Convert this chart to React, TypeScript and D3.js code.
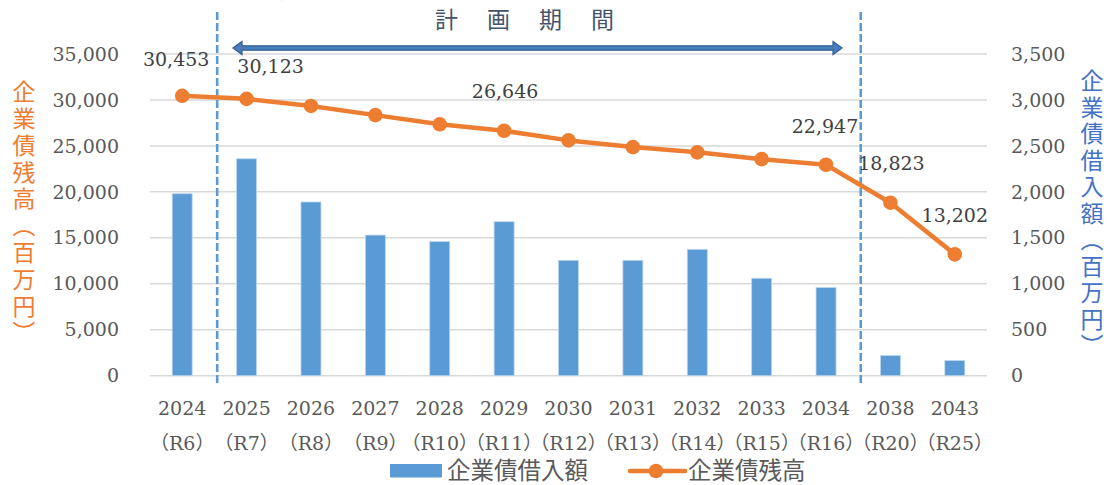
import React from 'react';
import * as d3 from 'd3';

const categories = ['2024', '2025', '2026', '2027', '2028', '2029', '2030', '2031', '2032', '2033', '2034', '2038', '2043'];
const eraLabels = ['R6', 'R7', 'R8', 'R9', 'R10', 'R11', 'R12', 'R13', 'R14', 'R15', 'R16', 'R20', 'R25'];
const borrowing = [1980, 2360, 1890, 1530, 1460, 1675, 1255, 1255, 1375, 1060, 960, 220, 165];
const balance = [30453, 30123, 29350, 28350, 27350, 26646, 25600, 24870, 24300, 23560, 22947, 18823, 13202];
const labeledIdx = [0, 1, 5, 10, 11, 12];
const leftTicks = [0, 5000, 10000, 15000, 20000, 25000, 30000, 35000];
const rightTicks = [0, 500, 1000, 1500, 2000, 2500, 3000, 3500];

const W = 1109;
const H = 485;
const M = { left: 150, right: 987, top: 54, bottom: 375.7 };

const BLUE = '#5b9bd5';
const ORANGE = '#ed7d31';
const TEXT = '#595959';
const NUM_FONT = '"DejaVu Serif", "Liberation Serif", serif';
const JP_FONT = '"Noto Sans CJK JP", "Noto Sans", sans-serif';

// label offsets (style, not data)
const labelOffset: Record<number, [number, number]> = {
  0: [-6, -36],
  1: [24, -32],
  5: [1, -39],
  10: [-1, -38],
  11: [1, -39],
  12: [0, -39],
};

export default function App() {
  const x = d3.scaleBand<string>().domain(categories).range([M.left, M.right]).paddingInner(0).paddingOuter(0);
  const yL = d3.scaleLinear().domain([0, 35000]).range([M.bottom, M.top]);
  const yR = d3.scaleLinear().domain([0, 3500]).range([M.bottom, M.top]);
  const bw = x.bandwidth();
  const cx = (c: string) => (x(c) as number) + bw / 2;
  const fmt = d3.format(',');
  const line = d3
    .line<number>()
    .x((_, i) => cx(categories[i]))
    .y((d) => yL(d));

  const div1 = (x(categories[1]) as number) + 2.8;
  const div2 = (x(categories[11]) as number) + 2.5;
  const arrowY = 48;
  const ax1 = 233;
  const ax2 = 842;
  const sh = 2.2;
  const hh = 6.5;
  const hl = 9;
  const arrowPts = [
    [ax1, arrowY],
    [ax1 + hl, arrowY - hh],
    [ax1 + hl, arrowY - sh],
    [ax2 - hl, arrowY - sh],
    [ax2 - hl, arrowY - hh],
    [ax2, arrowY],
    [ax2 - hl, arrowY + hh],
    [ax2 - hl, arrowY + sh],
    [ax1 + hl, arrowY + sh],
    [ax1 + hl, arrowY + hh],
  ]
    .map((p) => p.join(','))
    .join(' ');

  return (
    <svg
      width={W}
      height={H}
      style={{ position: 'absolute', left: 0, top: 0, background: '#fff' }}
      xmlns="http://www.w3.org/2000/svg"
    >
      <rect x={0} y={0} width={W} height={H} fill="#fff" />
      {/* clipped title */}
      <text x={33} y={-2} fontFamily={JP_FONT} fontSize={19} fontWeight="bold" fill="#000">
        企業債残高・企業債借入額の見通し
      </text>

      {/* gridlines */}
      {leftTicks.map((t) => (
        <line key={t} x1={M.left} x2={M.right} y1={yL(t)} y2={yL(t)} stroke="#d9d9d9" strokeWidth={1.5} />
      ))}

      {/* left ticks */}
      {leftTicks.map((t) => (
        <text
          key={'l' + t}
          x={119}
          y={yL(t)}
          dy="0.35em"
          textAnchor="end"
          fontFamily={NUM_FONT}
          fontSize={19}
          fill={TEXT}
        >
          {fmt(t)}
        </text>
      ))}
      {/* right ticks */}
      {rightTicks.map((t) => (
        <text key={'r' + t} x={1011} y={yR(t)} dy="0.35em" textAnchor="start" fontFamily={NUM_FONT} fontSize={19} fill={TEXT}>
          {fmt(t)}
        </text>
      ))}

      {/* axis titles */}
      <text
        x={24}
        y={214}
        textAnchor="middle"
        fontFamily={JP_FONT}
        fontSize={23}
        fill={ORANGE}
        style={{ writingMode: 'vertical-rl' as any }}
        letterSpacing={3.8}
      >
        企業債残高（百万円）
      </text>
      <text
        x={1092}
        y={215}
        textAnchor="middle"
        fontFamily={JP_FONT}
        fontSize={23}
        fill="#4472c4"
        style={{ writingMode: 'vertical-rl' as any }}
        letterSpacing={3.5}
      >
        企業債借入額（百万円）
      </text>

      {/* bars */}
      {categories.map((c, i) => (
        <rect
          key={'b' + c}
          x={cx(c) - 10}
          y={yR(borrowing[i])}
          width={20}
          height={M.bottom - yR(borrowing[i])}
          fill={BLUE}
          stroke="#bdd7ee"
          strokeWidth={0.8}
        />
      ))}

      {/* dashed dividers */}
      {[div1, div2].map((dx, i) => (
        <line key={'d' + i} x1={dx} x2={dx} y1={12} y2={383} stroke={BLUE} strokeWidth={2.6} strokeDasharray="8,3" />
      ))}

      {/* line */}
      <path d={line(balance) || ''} fill="none" stroke={ORANGE} strokeWidth={4.5} strokeLinejoin="round" />
      {categories.map((c, i) => (
        <circle key={'p' + c} cx={cx(c)} cy={yL(balance[i])} r={7.3} fill={ORANGE} />
      ))}

      {/* data labels */}
      {labeledIdx.map((i) => (
        <text
          key={'dl' + i}
          x={cx(categories[i]) + labelOffset[i][0]}
          y={yL(balance[i]) + labelOffset[i][1]}
          dy="0.35em"
          textAnchor="middle"
          fontFamily={NUM_FONT}
          fontSize={19}
          fill="#404040"
        >
          {fmt(balance[i])}
        </text>
      ))}

      {/* plan period arrow */}
      <polygon points={arrowPts} fill="#4a7ebb" stroke="#2f5f95" strokeWidth={1.2} strokeLinejoin="miter" />
      <text x={435} y={20} dy="0.35em" fontFamily={JP_FONT} fontSize={23} fill="#44546a" letterSpacing={29}>
        計画期間
      </text>

      {/* x labels */}
      {categories.map((c, i) => (
        <g key={'x' + c}>
          <text x={cx(c)} y={408} dy="0.35em" textAnchor="middle" fontFamily={NUM_FONT} fontSize={19} fill={TEXT}>
            {c}
          </text>
          <text x={cx(c)} y={443} dy="0.35em" textAnchor="middle" fontFamily={NUM_FONT + ', ' + JP_FONT} fontSize={19} fill={TEXT}>
            {'（' + eraLabels[i] + '）'}
          </text>
        </g>
      ))}

      {/* legend */}
      <rect x={390} y={464} width={52} height={13.5} fill={BLUE} />
      <text x={447} y={470.5} dy="0.35em" fontFamily={JP_FONT} fontSize={23.5} fill={TEXT}>
        企業債借入額
      </text>
      <line x1={630} x2={685} y1={471} y2={471} stroke={ORANGE} strokeWidth={4.5} strokeLinecap="round" />
      <circle cx={656} cy={471} r={7.3} fill={ORANGE} />
      <text x={688} y={470.5} dy="0.35em" fontFamily={JP_FONT} fontSize={23.5} fill={TEXT}>
        企業債残高
      </text>
    </svg>
  );
}
